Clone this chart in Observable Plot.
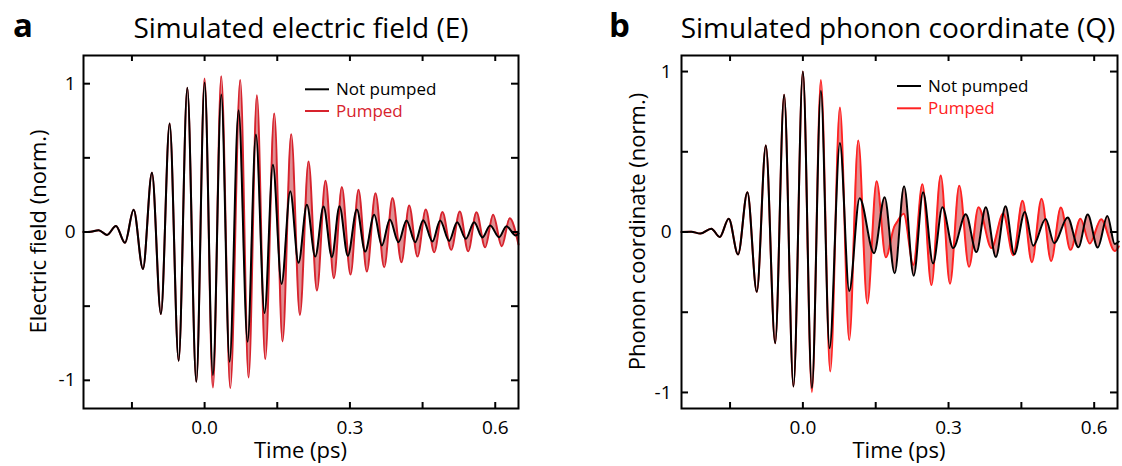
<!DOCTYPE html>
<html><head><meta charset="utf-8">
<script src="https://cdn.jsdelivr.net/npm/d3@7"></script>
<script src="https://cdn.jsdelivr.net/npm/@observablehq/plot@0.6"></script>
<style>
body{margin:0;background:#fff;}
#wrap{position:relative;width:1122px;height:466px;font-family:'Open Sans',sans-serif;}
#wrap svg{position:absolute;top:0;overflow:visible;}
</style></head><body><div id="wrap"></div>
<script>
// ---- data (time in ps, value normalised); extrema of each trace ----
const eShared = [[-0.25,0],[-0.235,0.002],[-0.2187,0.012],[-0.2016,-0.02],[-0.183,0.04],[-0.1644,-0.073],[-0.1465,0.15],[-0.1273,-0.249],[-0.1087,0.40],[-0.0902,-0.553],[-0.0722,0.731],[-0.0536,-0.868],[-0.0357,0.972],[-0.0171,-1.01]];
const eNotPumped = [[0.0,1.008],[0.0172,-0.965],[0.0344,0.927],[0.0516,-0.875],[0.0701,0.821],[0.0887,-0.740],[0.1059,0.657],[0.1238,-0.546],[0.1410,0.454],[0.1589,-0.350],[0.1768,0.274],[0.1939,-0.208],[0.2111,0.184],[0.2284,-0.166],[0.2455,0.172],[0.2627,-0.168],[0.2785,0.174],[0.2957,-0.161],[0.3143,0.152],[0.3315,-0.132],[0.3501,0.116],[0.3659,-0.091],[0.3824,0.084],[0.4003,-0.069],[0.4168,0.078],[0.4347,-0.069],[0.4512,0.080],[0.4704,-0.064],[0.4863,0.078],[0.5049,-0.060],[0.5213,0.066],[0.5392,-0.046],[0.5564,0.066],[0.5736,-0.037],[0.5894,0.044],[0.6080,-0.035],[0.6231,0.039],[0.6423,-0.024],[0.648,-0.01]];
const ePumped = [[0.0,1.035],[0.0172,-1.049],[0.0344,1.05],[0.0530,-1.053],[0.0736,1.024],[0.0908,-0.981],[0.1080,0.922],[0.1252,-0.857],[0.1438,0.799],[0.1609,-0.738],[0.1788,0.659],[0.1967,-0.560],[0.2146,0.476],[0.2318,-0.395],[0.2496,0.346],[0.2669,-0.312],[0.2833,0.303],[0.3012,-0.287],[0.3177,0.285],[0.3349,-0.267],[0.3528,0.262],[0.3707,-0.238],[0.3879,0.229],[0.4064,-0.204],[0.4223,0.179],[0.4394,-0.166],[0.4566,0.152],[0.4739,-0.136],[0.4910,0.134],[0.5090,-0.120],[0.5268,0.139],[0.5441,-0.130],[0.5612,0.134],[0.5791,-0.103],[0.5956,0.116],[0.6134,-0.096],[0.6299,0.093],[0.648,-0.085]];

const qShared = [[-0.25,0],[-0.23,0.002],[-0.2113,-0.010],[-0.1886,0.021],[-0.1713,-0.031],[-0.1527,0.083],[-0.1335,-0.140],[-0.1143,0.248],[-0.0949,-0.373],[-0.0763,0.539],[-0.0571,-0.693],[-0.0386,0.855],[-0.0194,-0.963],[0.0,1.0]];
const qNotPumped = [[0.0186,-0.973],[0.0371,0.880],[0.0550,-0.724],[0.0763,0.555],[0.0955,-0.368],[0.1168,0.211],[0.1465,-0.132],[0.1684,0.217],[0.1890,-0.257],[0.2084,0.285],[0.2282,-0.272],[0.2476,0.248],[0.2682,-0.196],[0.2874,0.154],[0.3095,-0.100],[0.3355,0.111],[0.3575,-0.125],[0.3767,0.155],[0.3974,-0.155],[0.4174,0.160],[0.4353,-0.139],[0.4572,0.125],[0.4745,-0.085],[0.4999,0.081],[0.5178,-0.070],[0.5453,0.091],[0.5674,-0.095],[0.5866,0.109],[0.6072,-0.097],[0.6272,0.100],[0.6423,-0.075],[0.6506,-0.06]];
const qPumped = [[0.0186,-0.998],[0.0371,0.948],[0.0564,-0.870],[0.0763,0.776],[0.0955,-0.673],[0.1141,0.570],[0.1327,-0.445],[0.1519,0.316],[0.1708,-0.157],[0.1884,0.035],[0.1935,0.06],[0.2076,0.114],[0.2276,-0.205],[0.2461,0.298],[0.2647,-0.330],[0.2839,0.352],[0.3029,-0.322],[0.3221,0.288],[0.3421,-0.217],[0.3617,0.155],[0.3885,-0.100],[0.4126,0.115],[0.4333,-0.145],[0.4524,0.195],[0.4716,-0.188],[0.4916,0.207],[0.5112,-0.180],[0.5313,0.153],[0.5511,-0.111],[0.5717,0.083],[0.5907,-0.072],[0.6144,0.080],[0.6423,-0.118],[0.6506,-0.09]];

const xMajorTicks = [0, 0.3, 0.6];
const xMinorTicks = [-0.15, 0.15, 0.45];
const yMajorTicks = [-1, 0, 1];
const yMinorTicks = [-0.5, 0.5];
const seriesNames = ["Not pumped", "Pumped"];
const xLabel = "Time (ps)";

function panel(cfg) {
  const H = 466, mt = 55, mb = 58;
  const fw = cfg.width - cfg.ml - cfg.mr, fh = H - mt - mb;
  const toRows = (arr, s) => arr.map(([t, v]) => ({t, v, series: s}));
  const black = toRows(cfg.shared.concat(cfg.notPumped), seriesNames[0]);
  const red = toRows(cfg.shared.concat(cfg.pumped), seriesNames[1]);
  const xT = xMajorTicks.concat(xMinorTicks), yT = yMajorTicks.concat(yMinorTicks);
  const svg = Plot.plot({
    width: cfg.width, height: H, marginLeft: cfg.ml, marginRight: cfg.mr, marginTop: mt, marginBottom: mb,
    style: {fontFamily: "'Open Sans', sans-serif", fontSize: "19px", color: "#000", background: "transparent", overflow: "visible"},
    x: {domain: [-0.25, 0.648], axis: null},
    y: {domain: cfg.yDomain, axis: null},
    marks: [
      Plot.areaY(red.concat(black), {x: "t", y1: 0, y2: "v", z: "series", fill: cfg.fill, curve: "monotone-x"}),
      Plot.lineY(red, {x: "t", y: "v", stroke: cfg.red, strokeWidth: 2, curve: "monotone-x"}),
      Plot.lineY(black, {x: "t", y: "v", stroke: "#000", strokeWidth: 2, curve: "monotone-x"}),
      Plot.tickX(xT, {x: d => d, insetTop: fh - 6, strokeWidth: 2}),
      Plot.tickX(xT, {x: d => d, insetBottom: fh - 6, strokeWidth: 2}),
      Plot.tickY(yT, {y: d => d, insetRight: fw - 7, strokeWidth: 2}),
      Plot.tickY(yT, {y: d => d, insetLeft: fw - 7, strokeWidth: 2}),
      Plot.axisX({ticks: xMajorTicks, tickSize: 0, tickPadding: 12, fontSize: 19, tickFormat: d3.format(".1f"), label: null}),
      Plot.axisY({ticks: yMajorTicks, tickSize: 0, tickPadding: cfg.ypad, fontSize: 19, tickFormat: d => String(d), label: null}),
      Plot.frame({stroke: "#000", strokeWidth: 2})
    ]
  });
  // fill between the two traces: even-odd union of both areas to the zero line
  const g = svg.querySelector('g[aria-label="area"]');
  if (g) {
    const paths = Array.from(g.querySelectorAll("path"));
    paths[0].setAttribute("d", paths.map(p => p.getAttribute("d")).join(""));
    paths[0].setAttribute("fill-rule", "evenodd");
    paths.slice(1).forEach(p => p.remove());
  }
  const s = d3.select(svg);
  const txt = (x, y, size, anchor, str, fill = "#000") =>
    s.append("text").attr("x", x).attr("y", y).attr("font-size", size).attr("text-anchor", anchor).attr("fill", fill).text(str);
  txt(cfg.letterX, 37, 33, "start", cfg.letter).attr("font-weight", 700);
  txt(cfg.titleX, 38, 28, "middle", cfg.title);
  txt(cfg.ml + fw / 2, 458, 22, "middle", xLabel);
  s.append("text").attr("transform", `translate(${cfg.ylabX},${mt + fh / 2}) rotate(-90)`).attr("text-anchor", "middle").attr("font-size", 22).attr("fill", "#000").text(cfg.ylabel);
  const L = cfg.legend;
  [["#000", 0], [cfg.red, 1]].forEach(([c, i]) => {
    const y = L.y + i * L.dy;
    s.append("line").attr("x1", L.x).attr("x2", L.x + 24).attr("y1", y).attr("y2", y).attr("stroke", c).attr("stroke-width", 2);
    txt(L.x + 31, y + 5.5, 17, "start", seriesNames[i], c);
  });
  svg.style.left = cfg.left + "px";
  document.getElementById("wrap").appendChild(svg);
}

panel({left: 0, width: 561, ml: 83, mr: 43, ypad: 8, yDomain: [-1.19, 1.19],
  shared: eShared, notPumped: eNotPumped, pumped: ePumped,
  red: "#d7232d", fill: "#df9094", letter: "a", letterX: 13, title: "Simulated electric field (E)", titleX: 301,
  ylabel: "Electric field (norm.)", ylabX: 46, legend: {x: 305, y: 89.3, dy: 21.7}});
panel({left: 561, width: 561, ml: 120, mr: 5, ypad: 10, yDomain: [-1.1, 1.1],
  shared: qShared, notPumped: qNotPumped, pumped: qPumped,
  red: "#ff2222", fill: "#e58f90", letter: "b", letterX: 48, title: "Simulated phonon coordinate (Q)", titleX: 337,
  ylabel: "Phonon coordinate (norm.)", ylabX: 84, legend: {x: 336, y: 86, dy: 22.3}});
</script></body></html>
